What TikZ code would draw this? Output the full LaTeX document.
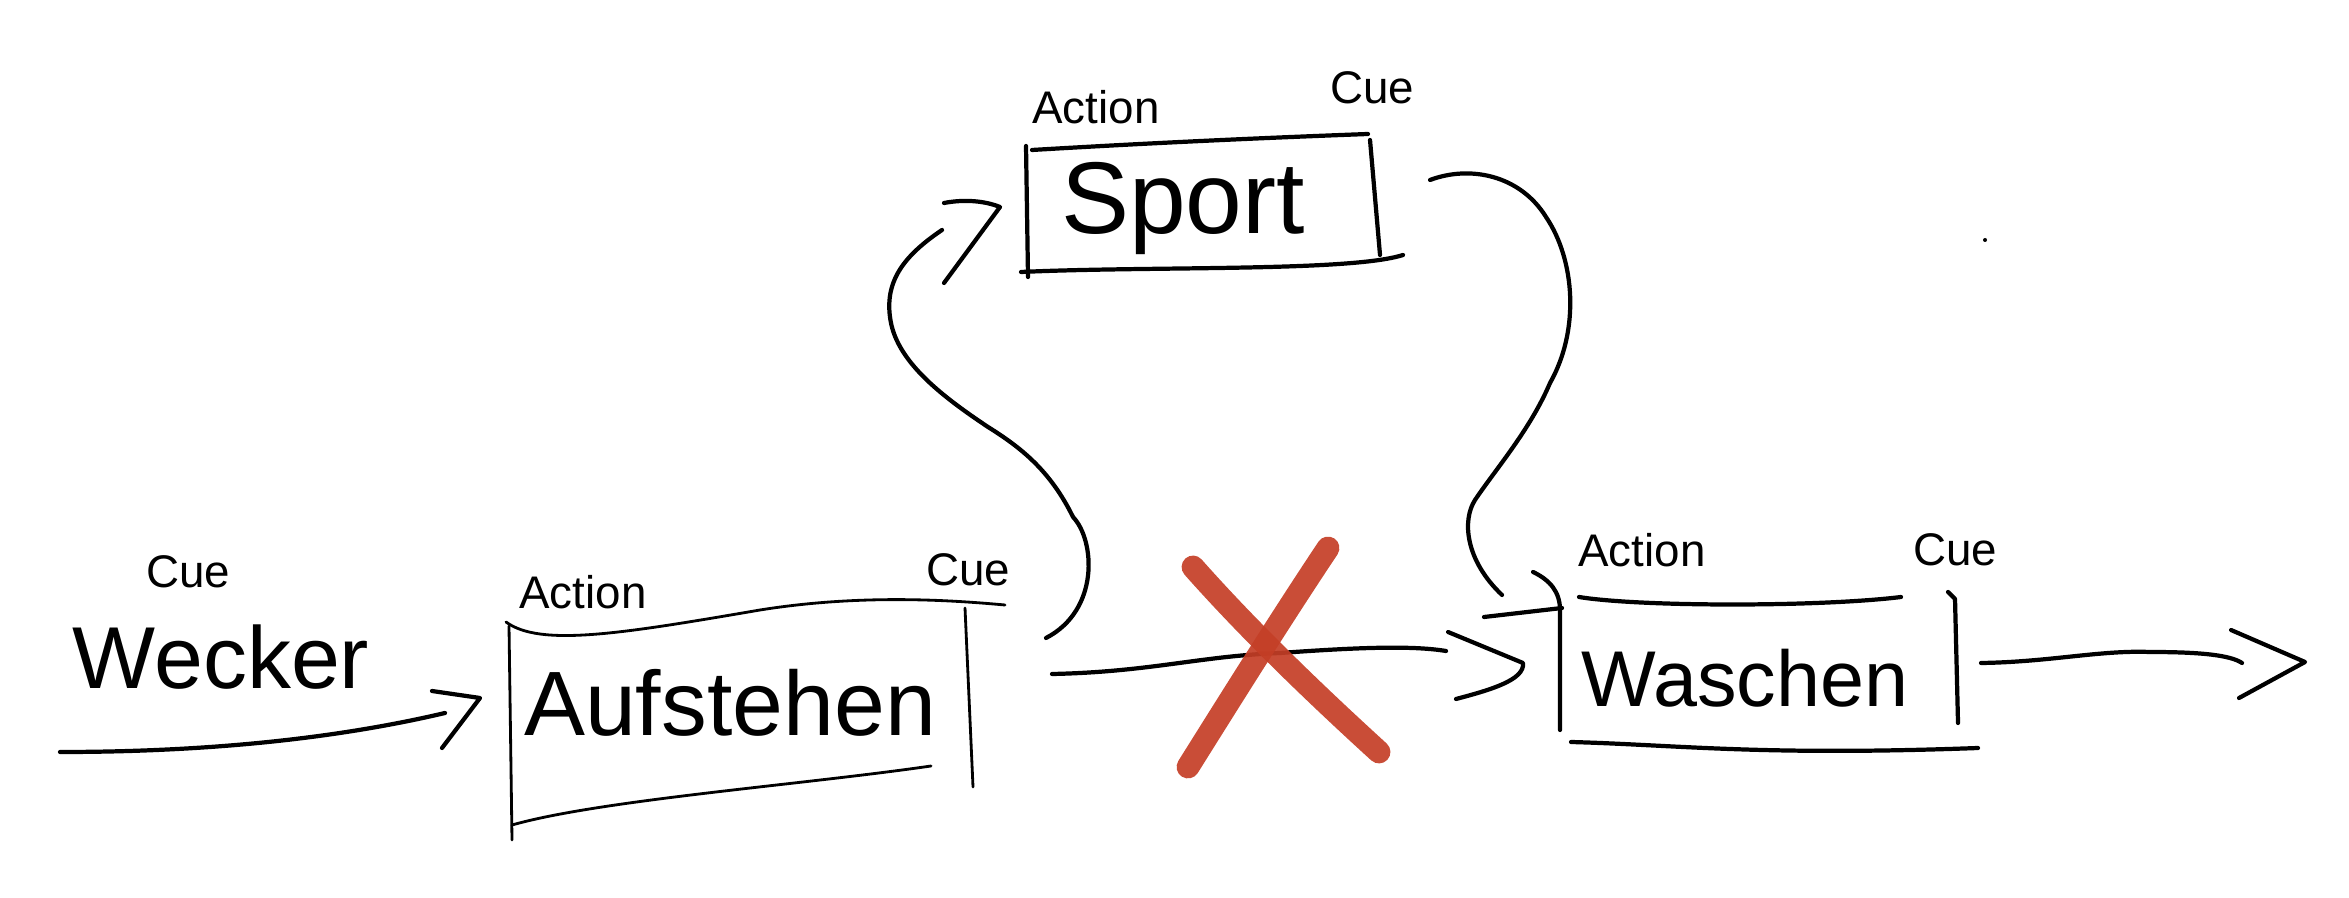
\documentclass[tikz,border=0pt]{standalone}
\usepackage{fontspec}
\setmainfont{Liberation Sans}
\usepackage{tikz}
\usetikzlibrary{calc}

\definecolor{crossred}{RGB}{196,62,38}
\tikzset{
  pen/.style={line width=1.2pt, line cap=round, line join=round},
  thin pen/.style={line width=0.8pt, line cap=round},
  small/.style={font=\fontsize{13}{15}\selectfont},
  big/.style={font=\fontsize{26}{30}\selectfont},
}

\begin{document}
\begin{tikzpicture}[x=0.01cm, y=-0.01cm]
  \useasboundingbox (0,0) rectangle (2349,898);

  % Texts
  \node[small] (cue0) at (188,572) {Cue};
  \node[big, font=\fontsize{25}{30}\selectfont] (wecker) at (221,657) {Wecker};

  \node[small] (act1) at (583,592) {Action};
  \node[small] (cue1) at (968,570) {Cue};
  \node[big] (aufstehen) at (730,703) {Aufstehen};

  \node[small] (act2) at (1096,107) {Action};
  \node[small] (cue2) at (1372,88) {Cue};
  \node[big, font=\fontsize{29}{34}\selectfont] (sport) at (1183,208) {Sport};

  \node[small] (act3) at (1642,550) {Action};
  \node[small] (cue3) at (1955,550) {Cue};
  \node[big, font=\fontsize{22.5}{27}\selectfont] (waschen) at (1745,678) {Waschen};

  % Box Aufstehen
  \draw[thin pen] (506,622) .. controls (540,647) and (620,634) .. (760,610)
    .. controls (860,594) and (950,600) .. (1005,605);
  \draw[thin pen] (509,626) -- (512,840);
  \draw[thin pen] (965,608) -- (973,787);
  \draw[thin pen] (512,825) .. controls (600,800) and (800,785) .. (931,766);

  % Box Sport
  \draw[pen] (1032,150) .. controls (1150,143) and (1260,138) .. (1368,134);
  \draw[pen] (1026,146) -- (1028,277);
  \draw[pen] (1370,140) -- (1380,255);
  \draw[pen] (1021,272) .. controls (1150,266) and (1350,272) .. (1403,255);

  % Box Waschen
  \draw[pen] (1579,597) .. controls (1640,607) and (1820,607) .. (1901,597);
  \draw[pen] (1533,572) .. controls (1550,580) and (1560,592) .. (1560,610) -- (1560,730);
  \draw[pen] (1948,592) -- (1955,599) -- (1958,723);
  \draw[pen] (1571,742) .. controls (1680,745) and (1760,756) .. (1978,748);

  % Connector points
  \coordinate (w0) at (60,752);
  \coordinate (w1) at (445,713);
  \coordinate (wt) at (480,698);
  \coordinate (a0) at (1046,638);
  \coordinate (st) at (1000,207);
  \coordinate (s0) at (1430,180);
  \coordinate (s1) at (1502,595);
  \coordinate (a1) at (1052,674);
  \coordinate (a2) at (1446,651);
  \coordinate (at) at (1523,663);
  \coordinate (r0) at (1981,663);
  \coordinate (r1) at (2242,663);
  \coordinate (rt) at (2305,662);

  % Wecker -> Aufstehen
  \draw[pen] (w0) .. controls (200,752) and (330,740) .. (w1);
  \draw[pen] (432,691) -- (wt) -- (442,748);

  % Aufstehen -> Sport
  \draw[pen] (a0) .. controls (1100,610) and (1095,540) .. (1073,517)
    .. controls (1050,470) and (1020,447) .. (988,427)
    .. controls (940,395) and (895,360) .. (890,317)
    .. controls (885,280) and (905,255) .. (942,230);
  \draw[pen] (944,203) .. controls (965,199) and (985,201) .. (st) -- (944,283);

  % Sport -> Waschen
  \draw[pen] (s0) .. controls (1470,165) and (1520,175) .. (1546,217)
    .. controls (1575,260) and (1580,330) .. (1550,383)
    .. controls (1530,430) and (1495,470) .. (1475,500)
    .. controls (1462,520) and (1465,560) .. (s1);
  \draw[pen] (1484,617) -- (1562,608);

  % Aufstehen -> Waschen
  \draw[pen] (a1) .. controls (1150,672) and (1200,656) .. (1280,653)
    .. controls (1350,648) and (1410,645) .. (a2);
  \draw[pen] (1448,632) -- (at) .. controls (1525,680) and (1490,690) .. (1456,699);

  % Waschen -> next
  \draw[pen] (r0) .. controls (2050,662) and (2100,650) .. (2150,652)
    .. controls (2200,652) and (2230,655) .. (r1);
  \draw[pen] (2231,630) -- (rt) -- (2239,698);

  % Red cross
  \draw[crossred, opacity=0.92, line width=6.5pt, line cap=round]
    (1193,567) .. controls (1240,620) and (1300,680) .. (1379,752);
  \draw[crossred, opacity=0.92, line width=6.5pt, line cap=round]
    (1328,548) .. controls (1280,620) and (1230,700) .. (1188,767);

  % Dot
  \fill (1985,240) circle (2);
\end{tikzpicture}
\end{document}
